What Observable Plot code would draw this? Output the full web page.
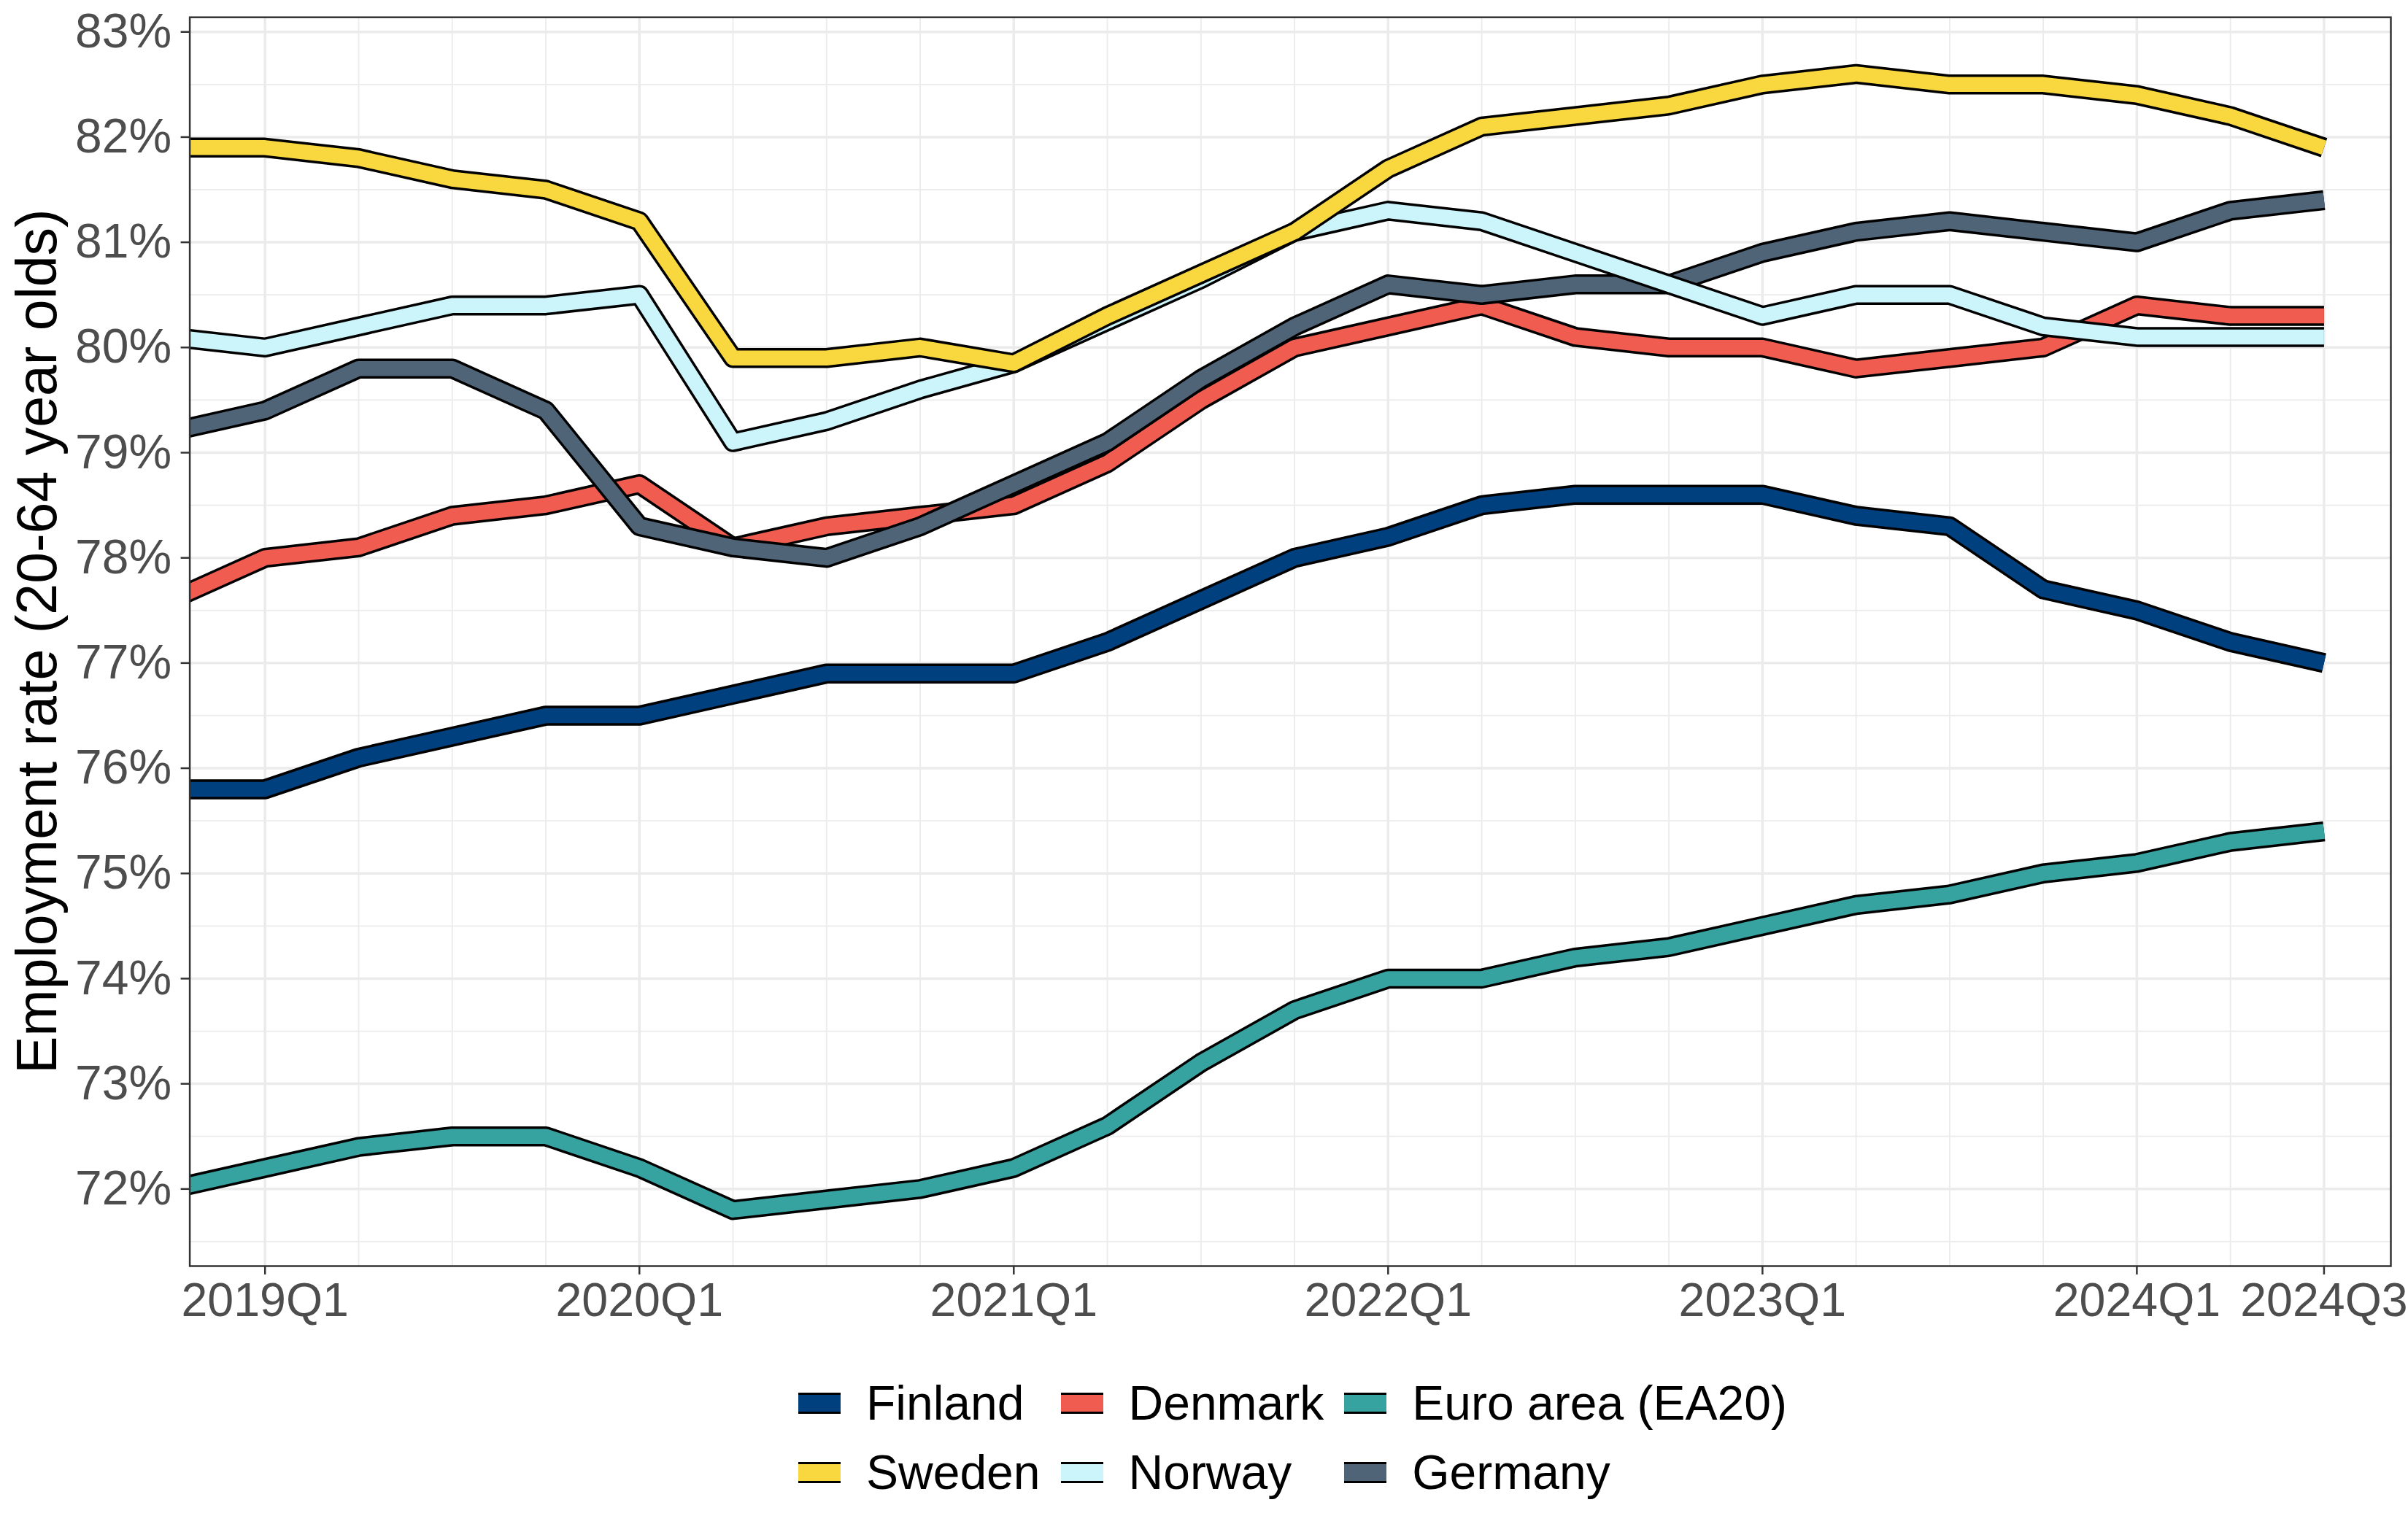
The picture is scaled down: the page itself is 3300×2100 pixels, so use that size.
<!DOCTYPE html>
<html>
<head>
<meta charset="utf-8">
<script src="https://cdn.jsdelivr.net/npm/d3@7"></script>
<script src="https://cdn.jsdelivr.net/npm/@observablehq/plot@0.6"></script>
<style>
html, body { margin: 0; padding: 0; background: #fff; }
#page { position: relative; width: 3300px; height: 2100px; background: #fff; overflow: hidden;
  font-family: "Liberation Sans", Arial, Helvetica, sans-serif; }
#chart { position: absolute; left: 0; top: 0; }
#ytitle { position: absolute; left: 50px; top: 879px; transform: translate(-50%, -50%) rotate(-90deg);
  font-size: 77px; white-space: nowrap; color: #000; line-height: normal; }
#legend { position: absolute; left: 1094px; top: 1885.5px; display: grid;
  grid-template-columns: repeat(3, auto); column-gap: 28px; row-gap: 20px; }
.item { display: flex; align-items: center; height: 75px; font-size: 66px; color: #000; white-space: nowrap; }
.key { width: 58px; height: 23px; border-top: 3.5px solid #000; border-bottom: 3.5px solid #000;
  margin-right: 35px; box-sizing: content-box; flex: none; }
</style>
</head>
<body>
<div id="page">
  <div id="chart"></div>
  <div id="ytitle"></div>
  <div id="legend"></div>
</div>
<script>
// ---------- data ----------
const quarters = ["2018Q4",
  "2019Q1","2019Q2","2019Q3","2019Q4",
  "2020Q1","2020Q2","2020Q3","2020Q4",
  "2021Q1","2021Q2","2021Q3","2021Q4",
  "2022Q1","2022Q2","2022Q3","2022Q4",
  "2023Q1","2023Q2","2023Q3","2023Q4",
  "2024Q1","2024Q2","2024Q3"];

const finland = [75.8, 75.8, 76.1, 76.3, 76.5, 76.5, 76.7, 76.9, 76.9, 76.9, 77.2, 77.6, 78.0,
                 78.2, 78.5, 78.6, 78.6, 78.6, 78.4, 78.3, 77.7, 77.5, 77.2, 77.0];
const sweden  = [81.9, 81.9, 81.8, 81.6, 81.5, 81.2, 79.9, 79.9, 80.0, 79.85, 80.3, 80.7, 81.1,
                 81.7, 82.1, 82.2, 82.3, 82.5, 82.6, 82.5, 82.5, 82.4, 82.2, 81.9];
const denmark = [77.6, 78.0, 78.1, 78.4, 78.5, 78.7, 78.1, 78.3, 78.4, 78.5, 78.9, 79.5, 80.0,
                 80.2, 80.4, 80.1, 80.0, 80.0, 79.8, 79.9, 80.0, 80.4, 80.3, 80.3];
const norway  = [80.1, 80.0, 80.2, 80.4, 80.4, 80.5, 79.1, 79.3, 79.6, 79.85, 80.25, 80.65, 81.1,
                 81.3, 81.2, 80.9, 80.6, 80.3, 80.5, 80.5, 80.2, 80.1, 80.1, 80.1];
const euroArea = [72.0, 72.2, 72.4, 72.5, 72.5, 72.2, 71.8, 71.9, 72.0, 72.2, 72.6, 73.2, 73.7,
                  74.0, 74.0, 74.2, 74.3, 74.5, 74.7, 74.8, 75.0, 75.1, 75.3, 75.4];
const germany = [79.2, 79.4, 79.8, 79.8, 79.4, 78.3, 78.1, 78.0, 78.3, 78.7, 79.1, 79.7, 80.2,
                 80.6, 80.5, 80.6, 80.6, 80.9, 81.1, 81.2, 81.1, 81.0, 81.3, 81.4];

const seriesNames  = ["Finland", "Sweden", "Denmark", "Norway", "Euro area (EA20)", "Germany"];
const seriesValues = [finland, sweden, denmark, norway, euroArea, germany];
const seriesColors = ["#00407f", "#f9d73e", "#f05d50", "#ccf4fb", "#36a3a1", "#506478"];
// drawing order (later ones on top)
const drawOrder   = ["Denmark", "Euro area (EA20)", "Finland", "Germany", "Norway", "Sweden"];
// legend order, row by row
const legendOrder = ["Finland", "Denmark", "Euro area (EA20)", "Sweden", "Norway", "Germany"];

const xTickLabels = ["2019Q1", "2020Q1", "2021Q1", "2022Q1", "2023Q1", "2024Q1", "2024Q3"];
const yMajor = [72, 73, 74, 75, 76, 77, 78, 79, 80, 81, 82, 83];
const yMinor = [71.5, 72.5, 73.5, 74.5, 75.5, 76.5, 77.5, 78.5, 79.5, 80.5, 81.5, 82.5];
const yTitle = "Employment rate (20-64 year olds)";

// ---------- helpers ----------
const qIndex = s => (+s.slice(0, 4) - 2019) * 4 + (+s.slice(5) - 1);
const rows = [];
seriesNames.forEach((name, k) => {
  quarters.forEach((q, j) => rows.push({country: name, t: qIndex(q), v: seriesValues[k][j]}));
});
const colorOf = Object.fromEntries(seriesNames.map((n, k) => [n, seriesColors[k]]));
const xTicks = xTickLabels.map(qIndex);
const xMinor = quarters.map(qIndex).filter(t => t >= 0 && !xTicks.includes(t));

const lineMarks = [];
for (const name of drawOrder) {
  const d = rows.filter(r => r.country === name);
  lineMarks.push(Plot.line(d, {x: "t", y: "v", stroke: "#000", strokeWidth: 27.5,
    strokeLinecap: "butt", strokeLinejoin: "round", clip: true}));
  lineMarks.push(Plot.line(d, {x: "t", y: "v", stroke: colorOf[name], strokeWidth: 20.5,
    strokeLinecap: "butt", strokeLinejoin: "round", clip: true}));
}

const chart = Plot.plot({
  width: 3300,
  height: 1850,
  marginTop: 23.2,
  marginBottom: 115,
  marginLeft: 259.6,
  marginRight: 24,
  style: {fontFamily: "'Liberation Sans', Arial, Helvetica, sans-serif", background: "#fff"},
  x: {type: "linear", domain: [-0.804, 22.714]},
  y: {type: "linear", domain: [71.267, 83.139]},
  marks: [
    Plot.gridX(xMinor, {stroke: "#ebebeb", strokeOpacity: 1, strokeWidth: 1.8}),
    Plot.gridY(yMinor, {stroke: "#ebebeb", strokeOpacity: 1, strokeWidth: 1.8}),
    Plot.gridX(xTicks, {stroke: "#ebebeb", strokeOpacity: 1, strokeWidth: 3.5}),
    Plot.gridY(yMajor, {stroke: "#ebebeb", strokeOpacity: 1, strokeWidth: 3.5}),
    ...lineMarks,
    Plot.axisX(xTicks, {tickFormat: d => xTickLabels[xTicks.indexOf(d)], tickSize: 12, tickPadding: 11,
      fontSize: 64.5, fill: "#4d4d4d", stroke: "#333333", strokeWidth: 2.5, label: null}),
    Plot.axisY(yMajor, {tickFormat: d => d + "%", tickSize: 12, tickPadding: 13,
      fontSize: 66, fill: "#4d4d4d", stroke: "#333333", strokeWidth: 2.5, label: null}),
    Plot.frame({stroke: "#333333", strokeWidth: 2.5})
  ]
});
document.getElementById("chart").appendChild(chart);
document.getElementById("ytitle").textContent = yTitle;

const legend = document.getElementById("legend");
for (const name of legendOrder) {
  const item = document.createElement("div");
  item.className = "item";
  const key = document.createElement("div");
  key.className = "key";
  key.style.background = colorOf[name];
  const label = document.createElement("span");
  label.textContent = name;
  item.appendChild(key);
  item.appendChild(label);
  legend.appendChild(item);
}
</script>
</body>
</html>
